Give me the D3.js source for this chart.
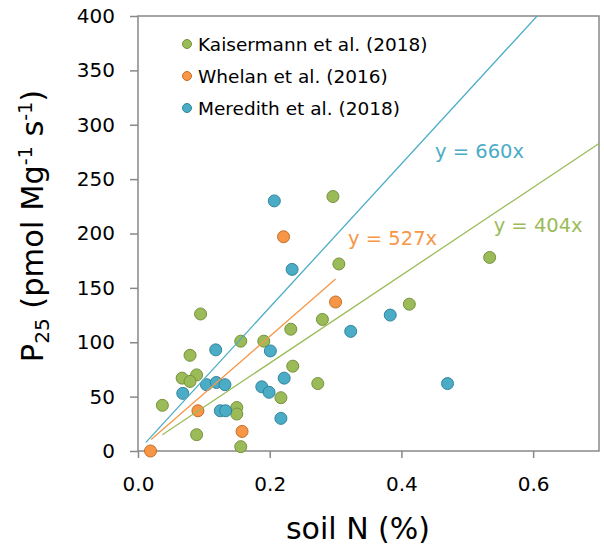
<!DOCTYPE html>
<html>
<head>
<meta charset="utf-8">
<script src="https://cdn.jsdelivr.net/npm/d3@7"></script>
<style>
  body { margin: 0; background: #fff; }
  text { font-family: "DejaVu Sans", sans-serif; }
</style>
</head>
<body>
<svg id="chart" width="604" height="550"></svg>
<script>
// Kaisermann et al. (2018)
const kaisermannN = [0.095, 0.079, 0.067, 0.089, 0.079, 0.037, 0.089, 0.156, 0.191, 0.232, 0.280, 0.235, 0.273, 0.217, 0.150, 0.150, 0.156, 0.296, 0.305, 0.412, 0.534];
const kaisermannP = [126, 88, 67, 70, 64, 42, 15, 101, 101, 112, 121, 78, 62, 49, 40, 34, 4, 234, 172, 135, 178];
// Whelan et al. (2016)
const whelanN = [0.019, 0.091, 0.158, 0.221, 0.300];
const whelanP = [0, 37, 18, 197, 137];
// Meredith et al. (2018)
const meredithN = [0.118, 0.201, 0.068, 0.104, 0.119, 0.132, 0.188, 0.199, 0.222, 0.125, 0.133, 0.217, 0.207, 0.234, 0.323, 0.383, 0.470];
const meredithP = [93, 92, 53, 61, 63, 61, 59, 54, 67, 37, 37, 30, 230, 167, 110, 125, 62];

const seriesNames = ['Kaisermann et al. (2018)', 'Whelan et al. (2016)', 'Meredith et al. (2018)'];
const fitSlopes = [404, 527, 660];
const fitStart = [0.037, 0.02, 0.012];
const fitEnd = [0.7, 0.3, 0.7];
const fitLabelN = [0.540, 0.319, 0.451];
const fitLabelP = [201, 189, 269];

const xTicks = [0, 0.2, 0.4, 0.6];
const yTicks = [0, 50, 100, 150, 200, 250, 300, 350, 400];

const COLORS = ['#9BBB59', '#F79646', '#4BACC6'];
const STROKES = ['#76923C', '#C46D27', '#31859C'];

const width = 604, height = 550;
const margin = { top: 16, right: 5, bottom: 99, left: 138 };

const svg = d3.select('#chart');

const x = d3.scaleLinear().domain([0, 0.7]).range([margin.left, width - margin.right]);
const y = d3.scaleLinear().domain([0, 400]).range([height - margin.bottom, margin.top]);

const seriesData = [
    d3.zip(kaisermannN, kaisermannP),
    d3.zip(whelanN, whelanP),
    d3.zip(meredithN, meredithP)
];

// Axes
const yAxis = d3.axisLeft(y).tickValues(yTicks).tickSize(8).tickPadding(15).tickSizeOuter(0);
const xAxis = d3.axisBottom(x).tickValues(xTicks).tickSize(7).tickPadding(19).tickSizeOuter(0).tickFormat(d3.format('.1f'));

const gy = svg.append('g')
    .attr('transform', `translate(${margin.left},0)`)
    .call(yAxis);
const gx = svg.append('g')
    .attr('transform', `translate(0,${height - margin.bottom})`)
    .call(xAxis);

[gx, gy].forEach(g => {
    g.select('.domain').remove();
    g.selectAll('.tick line').attr('stroke', '#888').attr('stroke-width', 1.5);
    g.selectAll('.tick text').attr('fill', '#000').attr('font-size', '20px')
        .attr('font-family', '"DejaVu Sans", sans-serif');
});

// Frame
svg.append('rect')
    .attr('x', margin.left)
    .attr('y', margin.top)
    .attr('width', width - margin.left - margin.right)
    .attr('height', height - margin.top - margin.bottom)
    .attr('fill', 'none')
    .attr('stroke', '#888')
    .attr('stroke-width', 1.5);

svg.append('clipPath').attr('id', 'plot-clip')
    .append('rect')
    .attr('x', margin.left)
    .attr('y', margin.top)
    .attr('width', width - margin.left - margin.right)
    .attr('height', height - margin.top - margin.bottom);

// Points
seriesData.forEach((data, i) => {
    svg.append('g')
        .selectAll('circle')
        .data(data)
        .enter()
        .append('circle')
        .attr('cx', d => x(d[0]))
        .attr('cy', d => y(d[1]))
        .attr('r', 6)
        .attr('fill', COLORS[i])
        .attr('stroke', STROKES[i])
        .attr('stroke-width', 1);
});

// Fit lines
const plot = svg.append('g').attr('clip-path', 'url(#plot-clip)');
fitSlopes.forEach((m, i) => {
    plot.append('line')
        .attr('x1', x(fitStart[i]))
        .attr('y1', y(m * fitStart[i]))
        .attr('x2', x(fitEnd[i]))
        .attr('y2', y(m * fitEnd[i]))
        .attr('stroke', COLORS[i])
        .attr('stroke-width', 1.3);

    svg.append('text')
        .attr('x', x(fitLabelN[i]))
        .attr('y', y(fitLabelP[i]))
        .attr('fill', COLORS[i])
        .attr('font-size', '19.5px')
        .text(`y = ${m}x`);
});

// Legend
const legend = svg.append('g').attr('transform', 'translate(187,44)');
seriesNames.forEach((name, i) => {
    const row = legend.append('g').attr('transform', `translate(0,${i * 32})`);
    row.append('circle')
        .attr('r', 4.5)
        .attr('fill', COLORS[i])
        .attr('stroke', STROKES[i])
        .attr('stroke-width', 1);
    row.append('text')
        .attr('x', 11)
        .attr('dy', '0.36em')
        .attr('font-size', '18.5px')
        .attr('fill', '#000')
        .text(name);
});

// Axis titles
svg.append('text')
    .attr('text-anchor', 'middle')
    .attr('x', 358)
    .attr('y', 539)
    .attr('font-size', '30px')
    .attr('fill', '#000')
    .text('soil N (%)');

const yLabel = svg.append('text')
    .attr('text-anchor', 'middle')
    .attr('transform', 'translate(43,226) rotate(-90)')
    .attr('font-size', '30.5px')
    .attr('fill', '#000');
yLabel.append('tspan').text('P');
yLabel.append('tspan').attr('font-size', '20px').attr('dy', 6).text('25');
yLabel.append('tspan').attr('dy', -6).text(' (pmol Mg');
yLabel.append('tspan').attr('font-size', '19px').attr('dy', -11).text('-1');
yLabel.append('tspan').attr('dy', 11).text(' s');
yLabel.append('tspan').attr('font-size', '19px').attr('dy', -11).text('-1');
yLabel.append('tspan').attr('dy', 11).text(')');
</script>
</body>
</html>
